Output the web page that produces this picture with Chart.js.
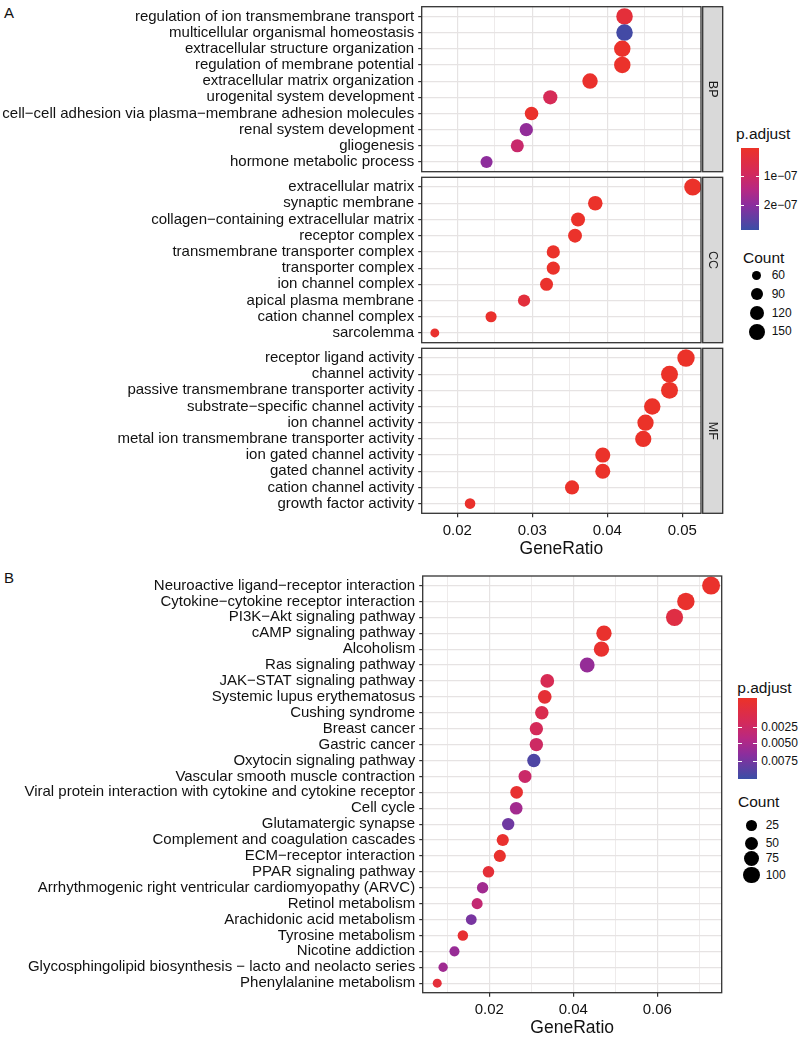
<!DOCTYPE html>
<html>
<head>
<meta charset="utf-8">
<script src="https://cdn.jsdelivr.net/npm/chart.js@4.4.1/dist/chart.umd.min.js"></script>
<style>
  body { margin:0; background:#fff; width:800px; height:1039px; position:relative; overflow:hidden;
         font-family:"Liberation Sans", Arial, sans-serif; color:#111; }
  canvas { position:absolute; left:0; }
  .abs { position:absolute; white-space:nowrap; line-height:1; }
  .ttl { font-size:15.5px; }
  .txt { font-size:12px; }
  .bar { position:absolute; }
  .tk  { position:absolute; height:1px; background:#fff; }
  .dot { position:absolute; border-radius:50%; background:#000; }
</style>
</head>
<body>
<div class="abs" style="left:4px;top:5px;font-size:15px">A</div>
<div class="abs" style="left:4px;top:570px;font-size:15px">B</div>

<canvas id="bp" width="725" height="176" style="top:0px"></canvas>
<canvas id="cc" width="725" height="176" style="top:172px"></canvas>
<canvas id="mf" width="725" height="222" style="top:343px"></canvas>
<canvas id="kegg" width="725" height="469" style="top:570px"></canvas>

<div id="legends"></div>

<script>
// ---- GO (panel A) ----
const bpTerms = ['regulation of ion transmembrane transport', 'multicellular organismal homeostasis',
  'extracellular structure organization', 'regulation of membrane potential', 'extracellular matrix organization',
  'urogenital system development', 'cell\u2212cell adhesion via plasma\u2212membrane adhesion molecules',
  'renal system development', 'gliogenesis', 'hormone metabolic process'];
const bpRatio = [0.0423, 0.0423, 0.0420, 0.0420, 0.0377, 0.0324, 0.0299, 0.0292, 0.0280, 0.0239];
const bpCount = [158, 158, 157, 157, 141, 121, 112, 109, 105, 92];
const bpPadj  = [0.3e-7, 2.75e-7, 0.05e-7, 0.05e-7, 0.08e-7, 0.8e-7, 0.06e-7, 1.9e-7, 1.1e-7, 1.95e-7];

const ccTerms = ['extracellular matrix', 'synaptic membrane', 'collagen\u2212containing extracellular matrix',
  'receptor complex', 'transmembrane transporter complex', 'transporter complex', 'ion channel complex',
  'apical plasma membrane', 'cation channel complex', 'sarcolemma'];
const ccRatio = [0.0514, 0.0384, 0.0361, 0.0357, 0.0328, 0.0328, 0.0319, 0.0289, 0.0245, 0.0170];
const ccCount = [168, 126, 118, 117, 107, 107, 104, 94, 80, 55];
const ccPadj  = [0.04e-7, 0.05e-7, 0.05e-7, 0.05e-7, 0.05e-7, 0.05e-7, 0.06e-7, 0.35e-7, 0.08e-7, 0.1e-7];

const mfTerms = ['receptor ligand activity', 'channel activity', 'passive transmembrane transporter activity',
  'substrate\u2212specific channel activity', 'ion channel activity', 'metal ion transmembrane transporter activity',
  'ion gated channel activity', 'gated channel activity', 'cation channel activity', 'growth factor activity'];
const mfRatio = [0.0505, 0.0483, 0.0483, 0.0460, 0.0451, 0.0448, 0.0394, 0.0394, 0.0353, 0.0217];
const mfCount = [172, 165, 165, 157, 154, 153, 134, 134, 120, 74];
const mfPadj  = [0.02e-7, 0.02e-7, 0.02e-7, 0.02e-7, 0.02e-7, 0.02e-7, 0.03e-7, 0.03e-7, 0.03e-7, 0.06e-7];

const goMajor = [0.02, 0.03, 0.04, 0.05];
const goMinor = [0.025, 0.035, 0.045];
const goColorTicks = [1e-7, 2e-7];
const goColorLabels = ['1e\u221207', '2e\u221207'];
const goCountBreaks = [60, 90, 120, 150];

// ---- KEGG (panel B) ----
const keggTerms = ['Neuroactive ligand\u2212receptor interaction', 'Cytokine\u2212cytokine receptor interaction',
  'PI3K\u2212Akt signaling pathway', 'cAMP signaling pathway', 'Alcoholism', 'Ras signaling pathway',
  'JAK\u2212STAT signaling pathway', 'Systemic lupus erythematosus', 'Cushing syndrome', 'Breast cancer',
  'Gastric cancer', 'Oxytocin signaling pathway', 'Vascular smooth muscle contraction',
  'Viral protein interaction with cytokine and cytokine receptor', 'Cell cycle', 'Glutamatergic synapse',
  'Complement and coagulation cascades', 'ECM\u2212receptor interaction', 'PPAR signaling pathway',
  'Arrhythmogenic right ventricular cardiomyopathy (ARVC)', 'Retinol metabolism', 'Arachidonic acid metabolism',
  'Tyrosine metabolism', 'Nicotine addiction', 'Glycosphingolipid biosynthesis \u2212 lacto and neolacto series',
  'Phenylalanine metabolism'];
const keggRatio = [0.0728, 0.0668, 0.0641, 0.0473, 0.0467, 0.0433, 0.0338, 0.0332, 0.0325, 0.0312,
  0.0312, 0.0306, 0.0285, 0.0265, 0.0264, 0.0245, 0.0232, 0.0225, 0.0198, 0.0184,
  0.0171, 0.0157, 0.0137, 0.0117, 0.0090, 0.0076];
const keggCount = [122, 112, 107, 79, 78, 72, 57, 56, 54, 52, 52, 51, 48, 44, 44, 41, 39, 38, 33, 31,
  28, 26, 23, 20, 15, 13];
const keggPadj = [0.0002, 0.0003, 0.0016, 0.0003, 0.0004, 0.0062, 0.0025, 0.0008, 0.0022, 0.0028,
  0.0033, 0.0088, 0.0035, 0.0005, 0.0056, 0.0076, 0.0004, 0.0003, 0.0009, 0.0057,
  0.0040, 0.0073, 0.0006, 0.0061, 0.0058, 0.0010];

const keggMajor = [0.02, 0.04, 0.06];
const keggMinor = [0.01, 0.03, 0.05, 0.07];
const keggColorLabels = ['0.0025', '0.0050', '0.0075'];
const keggCountBreaks = [25, 50, 75, 100];

// ---- styling helpers ----
const FONT = '"Liberation Sans", Arial, sans-serif';
const GRID = '#e6e3e3';
const stops = [[0, [236, 50, 40]], [0.3, [212, 42, 90]], [0.5, [184, 40, 130]], [0.7, [138, 46, 158]], [1, [58, 78, 166]]];

function gradColor(t) {
  t = Math.max(0, Math.min(1, t));
  for (let i = 1; i < stops.length; i++) {
    if (t <= stops[i][0]) {
      const [t0, c0] = stops[i - 1], [t1, c1] = stops[i];
      const f = (t - t0) / (t1 - t0);
      return 'rgb(' + c0.map((v, k) => Math.round(v + (c1[k] - v) * f)).join(',') + ')';
    }
  }
}
const cssGradient = 'linear-gradient(to bottom,' + stops.map(s => gradColor(s[0]) + ' ' + (s[0] * 100) + '%').join(',') + ')';

const goPMax = 2.85e-7, keggPMax = 0.0095;
const goDiam   = c => -2.2 + 1.49 * Math.sqrt(c);
const keggDiam = c => 4.7 + 1.2 * Math.sqrt(c);

// panel border + facet strip
const panelPlugin = {
  id: 'panel',
  afterDatasetsDraw(chart, args, o) {
    const { ctx, chartArea: a } = chart;
    ctx.save();
    ctx.strokeStyle = '#333'; ctx.lineWidth = 1.3;
    ctx.strokeRect(a.left, a.top, a.right - a.left, a.bottom - a.top);
    if (o.strip) {
      const x = a.right + 1.7, w = 20;
      ctx.fillStyle = '#d9d9d9';
      ctx.fillRect(x, a.top, w, a.bottom - a.top);
      ctx.strokeRect(x, a.top, w, a.bottom - a.top);
      ctx.translate(x + w / 2, (a.top + a.bottom) / 2);
      ctx.rotate(Math.PI / 2);
      ctx.fillStyle = '#1a1a1a';
      ctx.font = '12.5px ' + FONT;
      ctx.textAlign = 'center'; ctx.textBaseline = 'middle';
      ctx.fillText(o.strip, 0, 0);
    }
    ctx.restore();
  }
};

const noPad = ax => { ax.paddingTop = 0; ax.paddingBottom = 0; ax.paddingLeft = 0; ax.paddingRight = 0; };

function dotChart(id, terms, ratio, count, padj, s) {
  const xTicks = s.major.concat(s.minor);
  const isMinor = ctx => ctx.tick && s.minor.includes(ctx.tick.value);
  return new Chart(document.getElementById(id), {
    type: 'bubble',
    data: {
      datasets: [{
        data: terms.map((t, i) => ({ x: ratio[i], y: i, r: s.diam(count[i]) / 2 })),
        backgroundColor: padj.map(p => gradColor(p / s.pMax)),
        borderWidth: 0, hoverBorderWidth: 0
      }]
    },
    options: {
      responsive: false, animation: false, events: [],
      layout: { autoPadding: false, padding: { top: s.padTop, bottom: s.padBottom, right: s.padRight, left: 0 } },
      plugins: { legend: { display: false }, tooltip: { enabled: false }, panel: { strip: s.strip } },
      scales: {
        x: {
          type: 'linear', min: s.xMin, max: s.xMax,
          afterBuildTicks: ax => { ax.ticks = xTicks.map(v => ({ value: v })); },
          afterFit: ax => { ax.height = s.xHeight; noPad(ax); },
          border: { display: false },
          grid: {
            color: GRID, lineWidth: ctx => isMinor(ctx) ? 0.7 : 1.2,
            tickColor: ctx => isMinor(ctx) ? 'rgba(0,0,0,0)' : '#333',
            tickLength: 4, drawTicks: s.showX
          },
          ticks: {
            display: s.showX, autoSkip: false, maxRotation: 0, padding: 4.5, color: '#111',
            font: { family: FONT, size: 15 },
            callback: v => s.major.includes(v) ? v.toFixed(2) : ''
          },
          title: {
            display: s.showX, text: 'GeneRatio', color: '#111',
            font: { family: FONT, size: 17.5 }, padding: { top: 0, bottom: s.titlePad }
          }
        },
        y: {
          type: 'linear', reverse: true, min: -0.6, max: terms.length - 0.4,
          afterBuildTicks: ax => { ax.ticks = terms.map((t, i) => ({ value: i })); },
          afterFit: ax => { ax.width = s.yWidth; noPad(ax); },
          border: { display: false },
          grid: { color: GRID, lineWidth: 1.2, tickColor: '#333', tickLength: 3.5 },
          ticks: {
            autoSkip: false, padding: 4, color: '#111',
            font: { family: FONT, size: 15 },
            callback: v => terms[v]
          }
        }
      }
    },
    plugins: [panelPlugin]
  });
}

const goBase = { major: goMajor, minor: goMinor, xMin: 0.01525, xMax: 0.0525, pMax: goPMax, diam: goDiam,
                 yWidth: 421.7, padRight: 24 };
dotChart('bp', bpTerms, bpRatio, bpCount, bpPadj,
  Object.assign({}, goBase, { strip: 'BP', padTop: 6.7, padBottom: 4.3, xHeight: 0, showX: false }));
dotChart('cc', ccTerms, ccRatio, ccCount, ccPadj,
  Object.assign({}, goBase, { strip: 'CC', padTop: 5.3, padBottom: 5.3, xHeight: 0, showX: false }));
dotChart('mf', mfTerms, mfRatio, mfCount, mfPadj,
  Object.assign({}, goBase, { strip: 'MF', padTop: 5.3, padBottom: 0, xHeight: 51.7, showX: true, titlePad: 5.5 }));

dotChart('kegg', keggTerms, keggRatio, keggCount, keggPadj, {
  major: keggMajor, minor: keggMinor, xMin: 0.00414, xMax: 0.07533, pMax: keggPMax, diam: keggDiam,
  yWidth: 422.7, padRight: 3.3, padTop: 6, padBottom: 0, xHeight: 46.3, showX: true, titlePad: 0.5
});

// ---- legends (HTML) ----
const legends = document.getElementById('legends');
function el(cls, css, text) {
  const d = document.createElement('div');
  d.className = cls; d.style.cssText = css;
  if (text !== undefined) d.textContent = text;
  legends.appendChild(d);
  return d;
}
function colorLegend(L, labels, fracs) {
  el('abs ttl', `left:${L.titleX}px;top:${L.titleY - 8}px`, 'p.adjust');
  el('bar', `left:${L.x}px;top:${L.y}px;width:${L.w}px;height:${L.h}px;background:${cssGradient}`);
  labels.forEach((lab, i) => {
    const ty = L.y + fracs[i] * L.h;
    el('tk', `left:${L.x}px;top:${ty - 0.5}px;width:${L.w / 5}px`);
    el('tk', `left:${L.x + L.w - L.w / 5}px;top:${ty - 0.5}px;width:${L.w / 5}px`);
    el('abs txt', `left:${L.x + L.w + 4.5}px;top:${ty - 6.5}px`, lab);
  });
}
function sizeLegend(L, breaks, diam) {
  el('abs ttl', `left:${L.titleX}px;top:${L.titleY - 8}px`, 'Count');
  breaks.forEach((b, i) => {
    const d = diam(b), cy = L.rows[i];
    el('dot', `left:${L.cx - d / 2}px;top:${cy - d / 2}px;width:${d}px;height:${d}px`);
    el('abs txt', `left:${L.labX}px;top:${cy - 6.5}px`, String(b));
  });
}

colorLegend({ titleX: 736, titleY: 134, x: 740.7, y: 147.7, w: 18.6, h: 82.3 },
  goColorLabels, goColorTicks.map(v => v / goPMax));
sizeLegend({ titleX: 743, titleY: 257.5, cx: 756.7, labX: 771.7, rows: [275.7, 294.3, 313, 331.7] },
  goCountBreaks, goDiam);

colorLegend({ titleX: 737.3, titleY: 688.3, x: 738.3, y: 698.3, w: 18.4, h: 80.7 },
  keggColorLabels, [0.36, 0.558, 0.777]);
sizeLegend({ titleX: 738, titleY: 801.7, cx: 751.7, labX: 765.7, rows: [825.7, 843.3, 858.5, 875] },
  keggCountBreaks, keggDiam);
</script>
</body>
</html>
